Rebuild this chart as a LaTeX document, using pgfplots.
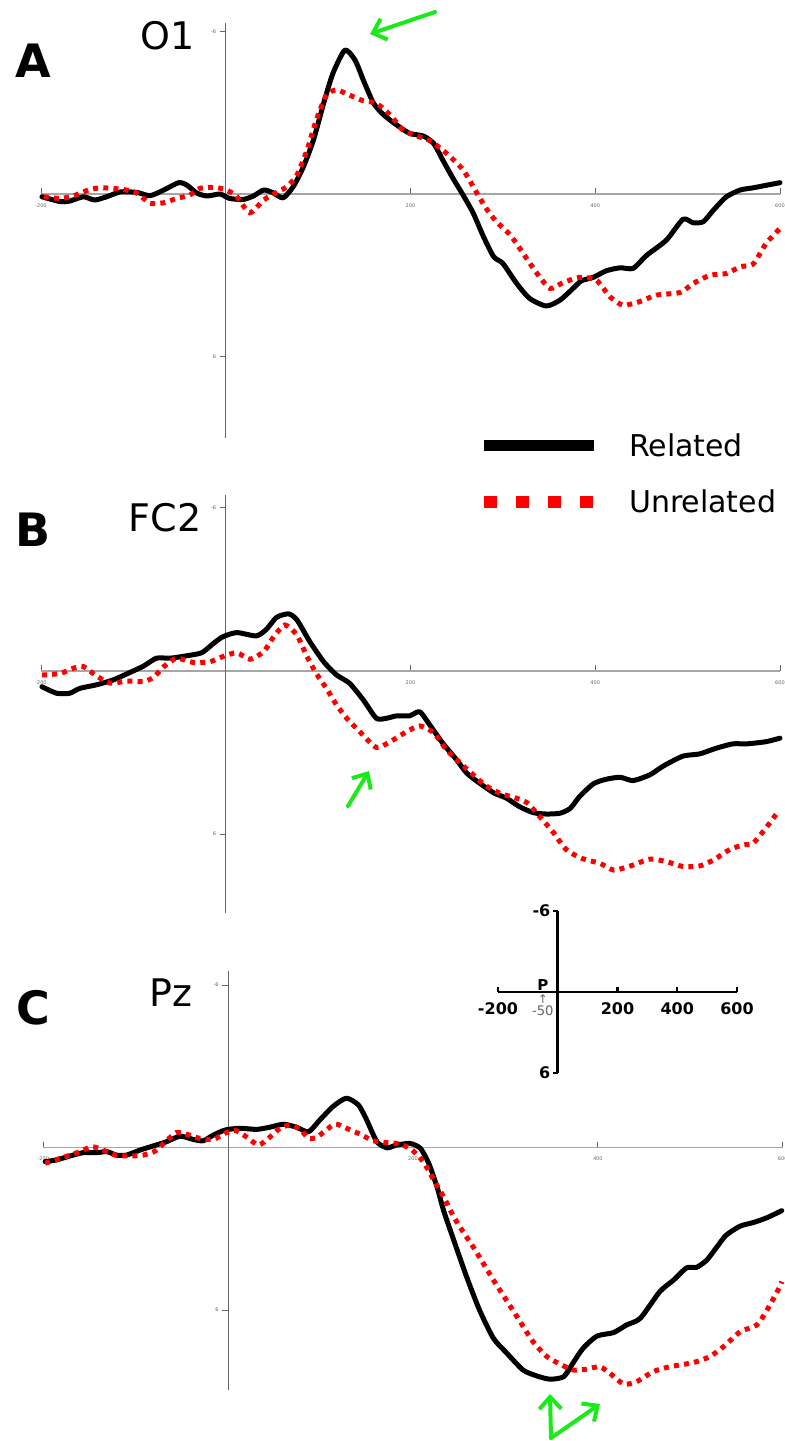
\documentclass[border=0pt]{standalone}
\usepackage{fontspec}
\setmainfont{DejaVu Sans}
\usepackage{pgfplots}
\pgfplotsset{compat=1.18}
\usetikzlibrary{arrows.meta}

\definecolor{erpred}{RGB}{255,0,0}
\definecolor{markgreen}{RGB}{25,235,25}

\pgfplotsset{
  erp/.style={
    scale only axis, width=369.5pt,
    xmin=-200, xmax=600, ymax=9, y dir=reverse,
    axis lines=middle,
    axis line style={-},
    x axis line style={draw=black!35, line width=0.8pt},
    y axis line style={draw=black!60, line width=0.45pt},
    xtick={-200,200,400,600}, ytick={-6,6},
    tick style={draw=black!60, line width=0.4pt},
    tick align=outside,
    major tick length=3pt,
    ticklabel style={font=\fontsize{2.5}{3}\selectfont, text=black!60, inner sep=1.6pt},
    /pgf/number format/assume math mode=true,
    clip=false,
  },
  related/.style={black, line width=2.5pt, smooth, tension=0.4, line join=round, line cap=round},
  unrelated/.style={erpred, line width=2.5pt, smooth, tension=0.4, dash pattern=on 2.5pt off 2.6pt},
}

\begin{document}
\begin{tikzpicture}
\useasboundingbox (0,0) rectangle (392.5pt,-720.5pt);

% ---------------- A: O1 ----------------
\begin{axis}[erp, at={(20.5pt,-219pt)}, anchor=south west, height=207.5pt, ymin=-6.31]
\addplot[related] coordinates {
(-199,0.10) (-179,0.28) (-169,0.26) (-154,0.10) (-142,0.22) (-129,0.10) (-114,-0.08) (-96,-0.06) (-82,0.06) (-67,-0.15) (-51,-0.42) (-42,-0.33) (-31,-0.03) (-20,0.07) (-6,0.00) (4,0.16) (19,0.20) (30,0.07) (41,-0.15) (51,-0.05) (62,0.14) (73,-0.27) (84,-1.00) (95,-2.00) (106,-3.35) (116,-4.45) (129,-5.31) (140,-4.94) (149,-4.20) (160,-3.35) (171,-2.92) (185,-2.55) (199,-2.24) (214,-2.14) (225,-1.87) (235,-1.25) (246,-0.58) (257,0.04) (268,0.71) (279,1.57) (290,2.31) (300,2.56) (315,3.30) (329,3.85) (347,4.13) (362,3.91) (376,3.48) (385,3.20) (398,3.07) (412,2.83) (427,2.72) (441,2.74) (456,2.25) (477,1.70) (495,0.93) (506,1.06) (517,1.02) (528,0.59) (542,0.10) (557,-0.15) (571,-0.23) (586,-0.33) (600,-0.42)
};
\addplot[unrelated] coordinates {
(-197,0.10) (-179,0.16) (-165,0.07) (-147,-0.17) (-133,-0.23) (-111,-0.17) (-96,-0.03) (-82,0.34) (-67,0.32) (-53,0.16) (-39,0.04) (-28,-0.21) (-13,-0.25) (1,-0.15) (12,0.10) (26,0.69) (41,0.22) (55,-0.06) (66,-0.27) (77,-0.70) (88,-1.62) (98,-2.73) (109,-3.65) (120,-3.84) (134,-3.65) (149,-3.44) (163,-3.35) (178,-2.92) (192,-2.36) (207,-2.14) (221,-1.97) (239,-1.50) (257,-0.89) (272,-0.03) (282,0.53) (293,1.02) (308,1.51) (322,2.19) (337,2.93) (351,3.48) (365,3.27) (383,3.07) (401,3.17) (416,3.79) (430,4.10) (448,3.97) (466,3.73) (492,3.63) (506,3.30) (524,3.00) (542,2.93) (557,2.68) (571,2.58) (585,1.82) (600,1.27)
};
\end{axis}

% ---------------- B: FC2 ----------------
\begin{axis}[erp, at={(20.5pt,-456.5pt)}, anchor=south west, height=209pt, ymin=-6.47, ymax=8.9]
\addplot[related] coordinates {
(-199,0.58) (-183,0.82) (-169,0.82) (-158,0.64) (-140,0.51) (-122,0.33) (-104,0.06) (-89,-0.18) (-75,-0.47) (-60,-0.47) (-42,-0.56) (-26,-0.67) (-13,-1.02) (-3,-1.26) (12,-1.41) (33,-1.29) (44,-1.53) (55,-1.97) (68,-2.10) (77,-1.88) (91,-1.08) (106,-0.34) (120,0.15) (134,0.45) (149,1.07) (163,1.74) (174,1.74) (185,1.65) (199,1.65) (210,1.50) (221,1.99) (235,2.66) (250,3.27) (261,3.76) (275,4.13) (290,4.48) (304,4.68) (318,4.99) (333,5.21) (347,5.26) (362,5.23) (373,5.05) (383,4.62) (398,4.15) (412,3.98) (427,3.91) (441,4.03) (459,3.82) (474,3.49) (495,3.13) (513,3.05) (531,2.84) (549,2.68) (564,2.68) (585,2.60) (600,2.47)
};
\addplot[unrelated] coordinates {
(-199,0.15) (-179,0.09) (-165,-0.10) (-154,-0.16) (-140,0.18) (-125,0.45) (-107,0.37) (-89,0.39) (-78,0.23) (-67,-0.16) (-53,-0.47) (-35,-0.31) (-17,-0.34) (-3,-0.53) (12,-0.67) (26,-0.43) (41,-0.71) (52,-1.26) (64,-1.69) (77,-1.32) (88,-0.53) (98,0.09) (109,0.64) (120,1.25) (131,1.74) (145,2.23) (163,2.81) (178,2.60) (196,2.23) (210,2.02) (225,2.27) (239,2.90) (254,3.39) (268,3.82) (282,4.23) (297,4.50) (311,4.64) (326,4.84) (340,5.36) (354,5.91) (369,6.58) (387,6.91) (405,7.07) (420,7.32) (438,7.17) (459,6.92) (477,7.01) (495,7.19) (513,7.17) (528,6.95) (546,6.56) (560,6.40) (571,6.33) (586,5.72) (598,5.17)
};
\end{axis}

% ---------------- C: Pz ----------------
\begin{axis}[erp, at={(21.65pt,-695pt)}, anchor=south west, width=369.7pt, height=209.3pt, ymin=-6.5, ymax=8.95]
\addplot[related] coordinates {
(-198,0.52) (-186,0.46) (-171,0.31) (-157,0.19) (-142,0.19) (-131,0.15) (-121,0.28) (-110,0.28) (-95,0.09) (-81,-0.06) (-67,-0.21) (-52,-0.42) (-38,-0.30) (-27,-0.25) (-16,-0.46) (-3,-0.65) (13,-0.71) (31,-0.67) (45,-0.75) (60,-0.86) (74,-0.75) (87,-0.58) (99,-1.01) (114,-1.53) (128,-1.82) (141,-1.57) (150,-1.01) (161,-0.21) (172,0.01) (182,-0.09) (197,-0.15) (208,0.03) (217,0.58) (226,1.45) (233,2.31) (244,3.41) (258,4.77) (272,6.00) (287,7.04) (301,7.57) (319,8.21) (334,8.43) (348,8.55) (363,8.46) (373,7.96) (384,7.41) (399,6.96) (417,6.83) (431,6.55) (446,6.30) (467,5.32) (482,4.89) (496,4.44) (507,4.42) (518,4.15) (529,3.66) (539,3.23) (554,2.90) (568,2.77) (583,2.59) (599,2.33)
};
\addplot[unrelated] coordinates {
(-198,0.58) (-178,0.36) (-160,0.15) (-148,-0.03) (-137,0.07) (-122,0.28) (-106,0.31) (-92,0.28) (-79,0.13) (-67,-0.24) (-56,-0.55) (-45,-0.49) (-31,-0.34) (-16,-0.30) (-2,-0.55) (9,-0.62) (22,-0.34) (33,-0.09) (45,-0.38) (56,-0.71) (67,-0.83) (78,-0.67) (87,-0.34) (96,-0.38) (105,-0.62) (116,-0.87) (128,-0.71) (143,-0.49) (157,-0.25) (172,-0.18) (182,-0.15) (197,0.03) (211,0.52) (222,1.17) (233,1.81) (244,2.55) (254,3.10) (265,3.66) (276,4.27) (287,4.89) (301,5.63) (316,6.43) (330,7.17) (345,7.72) (359,7.99) (373,8.21) (388,8.18) (402,8.09) (413,8.33) (428,8.73) (442,8.64) (460,8.27) (478,8.09) (503,7.94) (521,7.72) (536,7.35) (554,6.80) (572,6.55) (583,6.00) (595,5.26) (599,4.95)
};
\end{axis}

% ---------------- scale key ----------------
\begin{axis}[at={(249pt,-536.5pt)}, anchor=south west, scale only axis,
  width=119.5pt, height=81pt,
  xmin=-200, xmax=600, ymin=-6, ymax=6, y dir=reverse,
  axis lines=middle, axis line style={-, black, line width=1.3pt},
  xtick={-200,200,400,600}, ytick={-6,6},
  tick style={black, line width=1.1pt}, tick align=outside, major tick length=2.5pt,
  ticklabel style={font=\fontsize{8}{9.5}\selectfont\bfseries, inner sep=1pt},
  xticklabel style={inner sep=2.4pt},
  /pgf/number format/assume math mode=true,
  clip=false]
\node[font=\fontsize{7.5}{9}\selectfont\bfseries, anchor=south, inner sep=0.4pt] at (axis cs:-50,0) {P};
\node[font=\fontsize{6}{7}\selectfont, text=black!60, inner sep=0pt] at (axis cs:-50,0.5) {↑};
\node[font=\fontsize{6.6}{7.5}\selectfont, text=black!60, inner sep=0pt] at (axis cs:-50,1.4) {-50};
\end{axis}

% ---------------- labels, legend, markers ----------------
\begin{scope}[x=0.5pt, y=-0.5pt]
\node[font=\fontsize{23}{26}\selectfont\bfseries] at (33,61) {A};
\node[font=\fontsize{19}{22}\selectfont] at (168,36) {O1};
\node[font=\fontsize{23}{26}\selectfont\bfseries] at (33,530) {B};
\node[font=\fontsize{19}{22}\selectfont] at (165,518) {FC2};
\node[font=\fontsize{23}{26}\selectfont\bfseries] at (33,1008) {C};
\node[font=\fontsize{19}{22}\selectfont] at (171,993) {Pz};

\draw[black, line width=5.5pt] (484,445) -- (594,445);
\draw[erpred, line width=6pt, dash pattern=on 6.5pt off 9.5pt] (484,502) -- (594,502);
\node[anchor=west, font=\fontsize{15}{18}\selectfont] at (622,445) {Related};
\node[anchor=west, font=\fontsize{15}{18}\selectfont] at (622,501) {Unrelated};

\begin{scope}[markgreen, line width=2pt, line cap=round, -{Straight Barb[length=6pt, width=11pt, line width=2pt]}]
\draw (435,12) -- (370,34);
\draw (348,806) -- (369,771);
\draw (551,1438) -- (550,1394);
\draw (551,1438) -- (600,1404);
\end{scope}
\end{scope}
\end{tikzpicture}
\end{document}
